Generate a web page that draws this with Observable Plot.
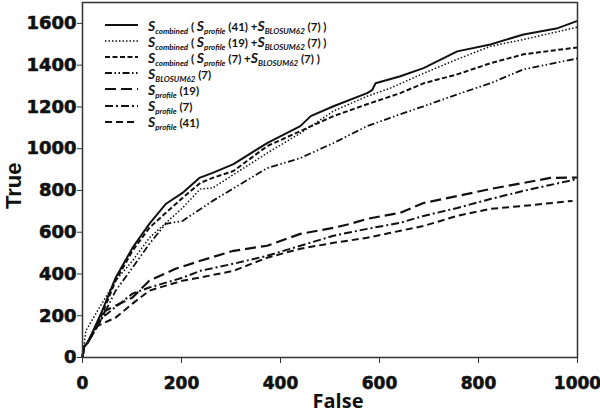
<!DOCTYPE html>
<html>
<head>
<meta charset="utf-8">
<script src="https://cdn.jsdelivr.net/npm/d3@7"></script>
<script src="https://cdn.jsdelivr.net/npm/@observablehq/plot@0.6"></script>
<style>
  html, body { margin: 0; padding: 0; background: #fff; }
  #wrap { position: relative; width: 600px; height: 417px; }
  #wrap svg [aria-label$="tick label"] text { stroke: #111; stroke-width: 0.6px; }
  #legend { position: absolute; left: 105px; top: 17px; font-family: Lato, "Open Sans", sans-serif; font-weight: bold; font-size: 11.5px; color: #111; }
  .row { height: 16.1px; display: flex; align-items: center; white-space: nowrap; }
  .row svg { width: 33px; height: 10px; margin-right: 10px; flex: none; }
  .s { font-style: italic; font-size: 14px; }
  .row sub { font-style: italic; font-size: 8px; vertical-align: -3px; line-height: 0; }
</style>
</head>
<body>
<div id="wrap"><div id="legend"></div></div>
<script>
// ---- data ----
const falseComb41 = [0,2,10,20,40,67,101,135,168,202,236,263,305,373,440,461,507,575,585,592,642,689,757,824,891,960,1000];
const trueComb41  = [0,50,70,120,224,382,525,640,735,788,860,884,926,1027,1108,1156,1203,1266,1280,1313,1347,1386,1466,1499,1547,1577,1612];

const falseComb19 = [0,3,7,27,67,101,135,202,238,263,373,440,507,575,622,689,757,824,891,1000];
const trueComb19  = [0,60,129,210,368,463,573,716,807,812,979,1074,1180,1251,1290,1361,1428,1490,1523,1582];

const falseComb7 = [0,3,10,40,67,101,135,168,202,238,263,305,373,440,507,575,642,689,757,824,891,1000];
const trueComb7  = [0,50,70,210,368,511,621,692,764,836,860,893,1012,1084,1156,1213,1266,1313,1356,1409,1452,1485];

const falseBlosum = [0,3,10,40,67,101,135,168,202,263,373,440,507,575,642,689,757,824,891,1000];
const trueBlosum  = [0,50,70,191,320,430,544,640,654,750,907,955,1027,1108,1165,1203,1260,1313,1380,1432];

const falseProf19 = [0,3,10,30,46,101,135,188,238,305,373,440,507,541,575,642,689,757,824,891,945,1000];
const trueProf19  = [0,50,70,150,224,287,368,425,463,511,535,592,621,640,664,693,740,773,807,836,860,862];

const falseProf7 = [0,3,10,30,40,101,135,202,238,305,373,440,507,575,642,689,757,824,891,1000];
const trueProf7  = [0,50,70,150,191,306,335,382,415,449,487,535,583,616,645,678,716,759,798,855];

const falseProf41 = [0,3,10,30,40,67,101,135,202,238,305,373,440,507,575,622,689,757,824,891,990];
const trueProf41  = [0,50,70,150,162,191,258,320,368,383,415,478,521,549,573,597,630,678,712,726,750];

const yTicks = [0,200,400,600,800,1000,1200,1400,1600];
const xTicks = [0,200,400,600,800,1000];

const series = [
  {f: falseComb41, t: trueComb41, dash: null, w: 2,
   label: '<span class="s">S</span><sub>combined</sub>&nbsp;( <span class="s">S</span><sub>profile</sub>&nbsp;(41) +<span class="s">S</span><sub>BLOSUM62</sub>&nbsp;(7) )'},
  {f: falseComb19, t: trueComb19, dash: "1.5,2", w: 1.5,
   label: '<span class="s">S</span><sub>combined</sub>&nbsp;( <span class="s">S</span><sub>profile</sub>&nbsp;(19) +<span class="s">S</span><sub>BLOSUM62</sub>&nbsp;(7) )'},
  {f: falseComb7, t: trueComb7, dash: "5,2.5", w: 2,
   label: '<span class="s">S</span><sub>combined</sub>&nbsp;( <span class="s">S</span><sub>profile</sub>&nbsp;(7) +<span class="s">S</span><sub>BLOSUM62</sub>&nbsp;(7) )'},
  {f: falseBlosum, t: trueBlosum, dash: "7,2.5,1.5,2.5,1.5,2.5", w: 1.8,
   label: '<span class="s">S</span><sub>BLOSUM62</sub>&nbsp;(7)'},
  {f: falseProf19, t: trueProf19, dash: "11,5", w: 2.2,
   label: '<span class="s">S</span><sub>profile</sub>&nbsp;(19)'},
  {f: falseProf7, t: trueProf7, dash: "8,3,2,3", w: 2,
   label: '<span class="s">S</span><sub>profile</sub>&nbsp;(7)'},
  {f: falseProf41, t: trueProf41, dash: "7,4", w: 2,
   label: '<span class="s">S</span><sub>profile</sub>&nbsp;(41)'}
];

const marks = [];
for (const s of series) {
  const rows = s.f.map((x, i) => ({x, y: s.t[i]}));
  marks.push(Plot.line(rows, {x: "x", y: "y", stroke: "#111", strokeWidth: s.w,
    strokeDasharray: s.dash || undefined, strokeLinejoin: "miter", strokeLinecap: "butt"}));
}
const fmt = d3.format("d");
marks.push(Plot.frame({stroke: "#333", strokeWidth: 1.5}));
marks.push(Plot.axisY({ticks: yTicks, tickFormat: fmt, tickSize: 5, tickPadding: 1, label: null,
  fontSize: 18, fontFamily: "DejaVu Sans", fontWeight: "bold", stroke: "#333"}));
marks.push(Plot.axisX({ticks: xTicks, tickFormat: fmt, tickSize: 6, tickPadding: 13, label: null,
  fontSize: 17, fontFamily: "DejaVu Sans", fontWeight: "bold", stroke: "#333"}));
marks.push(Plot.text(["True"], {frameAnchor: "left", rotate: -90, dx: -69, dy: 29, fontSize: 22, fontWeight: "bold", fill: "#111", fontFamily: "Liberation Sans"}));
marks.push(Plot.text(["False"], {frameAnchor: "bottom", dx: 8, dy: 50, fontSize: 20, fontWeight: "bold", fill: "#111", fontFamily: "Open Sans"}));

const chart = Plot.plot({
  width: 600, height: 417,
  marginLeft: 82, marginRight: 23, marginTop: 2, marginBottom: 60,
  x: {domain: [0, 1000]},
  y: {domain: [0, 1700]},
  style: {fontFamily: "DejaVu Sans", fontWeight: "bold", color: "#111", background: "#fff"},
  marks
});
const wrap = document.getElementById("wrap");
wrap.insertBefore(chart, wrap.firstChild);

const legend = document.getElementById("legend");
for (const s of series) {
  const row = document.createElement("div");
  row.className = "row";
  row.innerHTML = `<svg viewBox="0 0 33 10"><line x1="0" x2="33" y1="5" y2="5" stroke="#111" stroke-width="${s.w}" ${s.dash ? `stroke-dasharray="${s.dash}"` : ""}/></svg><span>${s.label}</span>`;
  legend.appendChild(row);
}
</script>
</body>
</html>
